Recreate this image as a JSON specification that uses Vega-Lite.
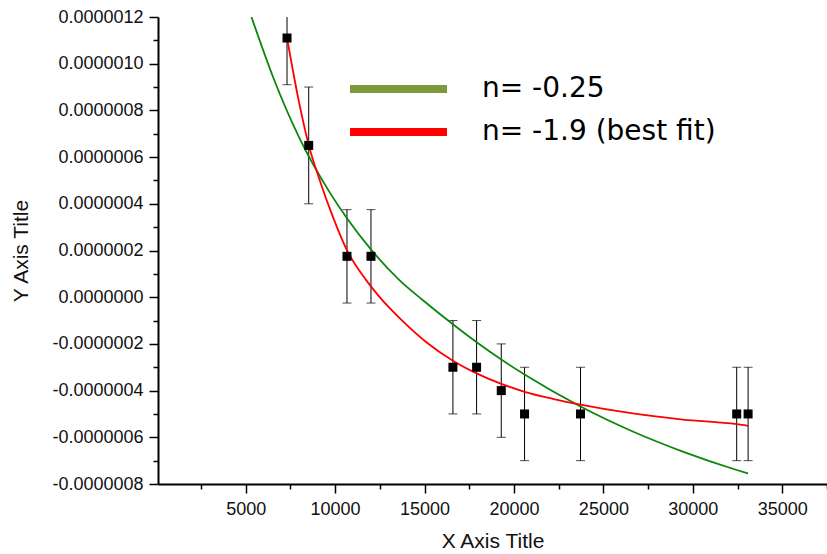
{
  "$schema": "https://vega.github.io/schema/vega-lite/v6.json",
  "width": 669,
  "height": 467,
  "autosize": {"type": "none"},
  "padding": {"left": 158, "top": 17, "right": 0, "bottom": 70},
  "background": "white",
  "config": {
    "view": {"stroke": null},
    "axis": {
      "labelFont": "Liberation Sans",
      "titleFont": "Liberation Sans",
      "labelColor": "#111",
      "titleColor": "#111",
      "tickColor": "#000",
      "domainColor": "#000",
      "grid": false
    }
  },
  "datasets": {
    "points": [
      {"x": 7313, "y": 1.11e-6, "lo": 0.91e-6, "hi": 1.31e-6},
      {"x": 8525, "y": 6.5e-7, "lo": 4.0e-7, "hi": 9.0e-7},
      {"x": 10665, "y": 1.75e-7, "lo": -2.5e-8, "hi": 3.75e-7},
      {"x": 12006, "y": 1.75e-7, "lo": -2.5e-8, "hi": 3.75e-7},
      {"x": 16587, "y": -3e-7, "lo": -5e-7, "hi": -1e-7},
      {"x": 17910, "y": -3e-7, "lo": -5e-7, "hi": -1e-7},
      {"x": 19290, "y": -4e-7, "lo": -6e-7, "hi": -2e-7},
      {"x": 20592, "y": -5e-7, "lo": -7e-7, "hi": -3e-7},
      {"x": 23721, "y": -5e-7, "lo": -7e-7, "hi": -3e-7},
      {"x": 32452, "y": -5e-7, "lo": -7e-7, "hi": -3e-7},
      {"x": 33089, "y": -5e-7, "lo": -7e-7, "hi": -3e-7}
    ],
    "curves": [
      {"series": "n= -0.25", "x": 5324, "y": 1.2e-6},
      {"series": "n= -0.25", "x": 6531, "y": 9.43e-7},
      {"series": "n= -0.25", "x": 8022, "y": 6.79e-7},
      {"series": "n= -0.25", "x": 9698, "y": 4.49e-7},
      {"series": "n= -0.25", "x": 10704, "y": 3.34e-7},
      {"series": "n= -0.25", "x": 11989, "y": 2.06e-7},
      {"series": "n= -0.25", "x": 13609, "y": 7.2e-8},
      {"series": "n= -0.25", "x": 14911, "y": -1.3e-8},
      {"series": "n= -0.25", "x": 16587, "y": -1.16e-7},
      {"series": "n= -0.25", "x": 17894, "y": -1.92e-7},
      {"series": "n= -0.25", "x": 19291, "y": -2.67e-7},
      {"series": "n= -0.25", "x": 20592, "y": -3.31e-7},
      {"series": "n= -0.25", "x": 23721, "y": -4.68e-7},
      {"series": "n= -0.25", "x": 26642, "y": -5.75e-7},
      {"series": "n= -0.25", "x": 29436, "y": -6.61e-7},
      {"series": "n= -0.25", "x": 32453, "y": -7.40e-7},
      {"series": "n= -0.25", "x": 33089, "y": -7.55e-7},
      {"series": "n= -1.9 (best fit)", "x": 7313, "y": 1.11e-6},
      {"series": "n= -1.9 (best fit)", "x": 7927, "y": 8.57e-7},
      {"series": "n= -1.9 (best fit)", "x": 8525, "y": 6.52e-7},
      {"series": "n= -1.9 (best fit)", "x": 9140, "y": 5.01e-7},
      {"series": "n= -1.9 (best fit)", "x": 9883, "y": 3.43e-7},
      {"series": "n= -1.9 (best fit)", "x": 10665, "y": 2.01e-7},
      {"series": "n= -1.9 (best fit)", "x": 11749, "y": 7.2e-8},
      {"series": "n= -1.9 (best fit)", "x": 12492, "y": 0},
      {"series": "n= -1.9 (best fit)", "x": 13609, "y": -9.0e-8},
      {"series": "n= -1.9 (best fit)", "x": 15101, "y": -1.93e-7},
      {"series": "n= -1.9 (best fit)", "x": 16587, "y": -2.72e-7},
      {"series": "n= -1.9 (best fit)", "x": 17911, "y": -3.26e-7},
      {"series": "n= -1.9 (best fit)", "x": 19291, "y": -3.71e-7},
      {"series": "n= -1.9 (best fit)", "x": 20592, "y": -4.05e-7},
      {"series": "n= -1.9 (best fit)", "x": 22156, "y": -4.35e-7},
      {"series": "n= -1.9 (best fit)", "x": 23721, "y": -4.60e-7},
      {"series": "n= -1.9 (best fit)", "x": 26642, "y": -4.98e-7},
      {"series": "n= -1.9 (best fit)", "x": 29436, "y": -5.24e-7},
      {"series": "n= -1.9 (best fit)", "x": 32453, "y": -5.44e-7},
      {"series": "n= -1.9 (best fit)", "x": 33089, "y": -5.51e-7}
    ]
  },
  "resolve": {
    "axis": {"x": "independent", "y": "independent"},
    "scale": {"color": "independent"}
  },
  "layer": [
    {
      "data": {"name": "points"},
      "mark": {"type": "rule", "color": "#000", "strokeWidth": 1, "clip": true},
      "encoding": {
        "x": {
          "field": "x", "type": "quantitative",
          "scale": {"domain": [100, 37500], "nice": false, "zero": false},
          "axis": {
            "orient": "bottom",
            "values": [2500, 7500, 12500, 17500, 22500, 27500, 32500, 37500],
            "labels": false, "domain": false, "tickSize": 5, "tickWidth": 1.5, "title": null
          }
        },
        "y": {
          "field": "lo", "type": "quantitative",
          "scale": {"domain": [-8e-7, 1.2e-6], "nice": false, "zero": false},
          "axis": {
            "orient": "left",
            "values": [-7e-7, -5e-7, -3e-7, -1e-7, 1e-7, 3e-7, 5e-7, 7e-7, 9e-7, 1.1e-6],
            "labels": false, "domain": false, "tickSize": 5, "tickWidth": 1.5, "title": null
          }
        },
        "y2": {"field": "hi"}
      }
    },
    {
      "data": {"name": "points"},
      "mark": {"type": "tick", "orient": "horizontal", "color": "#000", "size": 9, "thickness": 1, "clip": true},
      "encoding": {
        "x": {"field": "x", "type": "quantitative", "axis": null},
        "y": {"field": "lo", "type": "quantitative", "axis": null}
      }
    },
    {
      "data": {"name": "points"},
      "mark": {"type": "tick", "orient": "horizontal", "color": "#000", "size": 9, "thickness": 1, "clip": true},
      "encoding": {
        "x": {"field": "x", "type": "quantitative", "axis": null},
        "y": {"field": "hi", "type": "quantitative", "axis": null}
      }
    },
    {
      "data": {"name": "curves"},
      "mark": {"type": "line", "strokeWidth": 1, "opacity": 0, "clip": true, "interpolate": "monotone"},
      "encoding": {
        "x": {"field": "x", "type": "quantitative", "axis": null},
        "y": {"field": "y", "type": "quantitative", "axis": null},
        "color": {
          "field": "series", "type": "nominal",
          "scale": {"domain": ["n= -0.25", "n= -1.9 (best fit)"], "range": ["#7a9a3c", "#ff0000"]},
          "legend": {
            "title": null,
            "orient": "none",
            "legendX": 188,
            "legendY": 57,
            "direction": "vertical",
            "symbolType": "stroke",
            "symbolSize": 9409,
            "symbolStrokeWidth": 8,
            "clipHeight": 30,
            "rowPadding": 13,
            "labelOffset": 31,
            "labelFont": "DejaVu Sans",
            "labelFontSize": 28,
            "labelColor": "#000",
            "labelLimit": 500,
            "padding": 0,
            "encode": {
              "symbols": {"update": {"strokeWidth": {"value": 8}, "opacity": {"value": 1}, "strokeOpacity": {"value": 1}}}
            }
          }
        }
      }
    },
    {
      "data": {"name": "curves"},
      "mark": {"type": "line", "strokeWidth": 1.8, "clip": true, "interpolate": "monotone"},
      "encoding": {
        "x": {"field": "x", "type": "quantitative", "axis": null},
        "y": {"field": "y", "type": "quantitative", "axis": null},
        "color": {
          "field": "series", "type": "nominal",
          "scale": {"domain": ["n= -0.25", "n= -1.9 (best fit)"], "range": ["#0b870b", "#ff0000"]},
          "legend": null
        }
      }
    },
    {
      "data": {"name": "points"},
      "mark": {"type": "point", "shape": "square", "filled": true, "size": 81, "color": "#000", "opacity": 1, "clip": true},
      "encoding": {
        "x": {
          "field": "x", "type": "quantitative",
          "axis": {
            "orient": "bottom",
            "values": [5000, 10000, 15000, 20000, 25000, 30000, 35000],
            "format": "d",
            "tickSize": 9, "tickWidth": 1.5, "domainWidth": 2,
            "labelFontSize": 18, "labelPadding": 7,
            "title": "X Axis Title", "titleFontSize": 21, "titleFontWeight": "normal", "titlePadding": 12
          }
        },
        "y": {
          "field": "y", "type": "quantitative",
          "axis": {
            "orient": "left",
            "values": [-8e-7, -6e-7, -4e-7, -2e-7, 0, 2e-7, 4e-7, 6e-7, 8e-7, 1e-6, 1.2e-6],
            "labelExpr": "replace(format(datum.value, '.7f'), '\u2212', '-')",
            "tickSize": 9, "tickWidth": 1.5, "domainWidth": 2,
            "labelFontSize": 18, "labelPadding": 6,
            "title": "Y Axis Title", "titleFontSize": 21, "titleFontWeight": "normal", "titlePadding": 20
          }
        }
      }
    }
  ]
}
